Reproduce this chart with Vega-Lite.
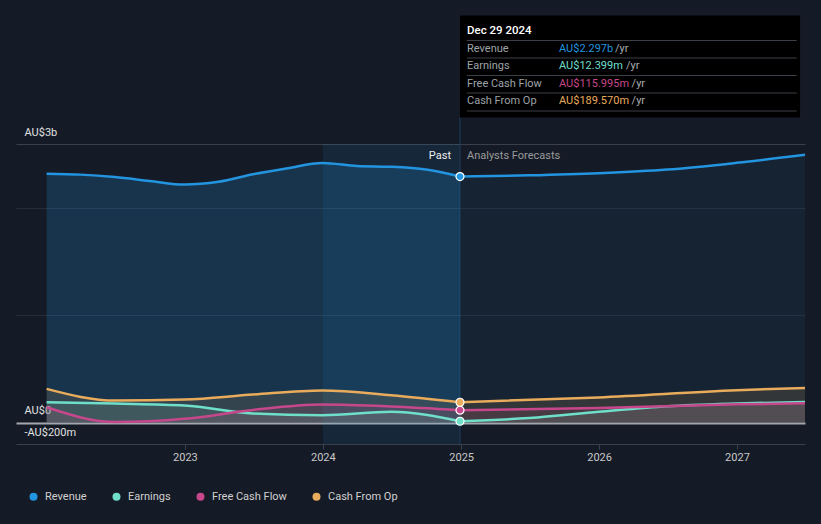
{
  "$schema": "https://vega.github.io/schema/vega-lite/v6.json",
  "width": 789,
  "height": 434,
  "autosize": {"type": "none"},
  "padding": {"left": 16, "top": 10, "right": 16, "bottom": 80},
  "background": "#151b26",
  "config": {
    "view": {"stroke": null},
    "font": "Roboto",
    "text": {"font": "Roboto"},
    "legend": {"labelFont": "Roboto"},
    "axis": {"labelFont": "Roboto"}
  },
  "datasets": {
    "financials": [
      {"date": "2021-12-31", "series": "Revenue", "phase": "past", "value": 2.324},
      {"date": "2022-03-31", "series": "Revenue", "phase": "past", "value": 2.315},
      {"date": "2022-06-30", "series": "Revenue", "phase": "past", "value": 2.292},
      {"date": "2022-09-30", "series": "Revenue", "phase": "past", "value": 2.256},
      {"date": "2022-12-31", "series": "Revenue", "phase": "past", "value": 2.222},
      {"date": "2023-03-31", "series": "Revenue", "phase": "past", "value": 2.248},
      {"date": "2023-06-30", "series": "Revenue", "phase": "past", "value": 2.318},
      {"date": "2023-09-30", "series": "Revenue", "phase": "past", "value": 2.375},
      {"date": "2023-12-31", "series": "Revenue", "phase": "past", "value": 2.424},
      {"date": "2024-03-31", "series": "Revenue", "phase": "past", "value": 2.396},
      {"date": "2024-06-30", "series": "Revenue", "phase": "past", "value": 2.388},
      {"date": "2024-09-30", "series": "Revenue", "phase": "past", "value": 2.362},
      {"date": "2024-12-29", "series": "Revenue", "phase": "past", "value": 2.297},
      {"date": "2024-12-29", "series": "Revenue", "phase": "forecast", "value": 2.297},
      {"date": "2025-06-30", "series": "Revenue", "phase": "forecast", "value": 2.308},
      {"date": "2025-12-31", "series": "Revenue", "phase": "forecast", "value": 2.328},
      {"date": "2026-06-30", "series": "Revenue", "phase": "forecast", "value": 2.362},
      {"date": "2026-12-31", "series": "Revenue", "phase": "forecast", "value": 2.425},
      {"date": "2027-06-30", "series": "Revenue", "phase": "forecast", "value": 2.5},

      {"date": "2021-12-31", "series": "Earnings", "phase": "past", "value": 0.19},
      {"date": "2022-06-30", "series": "Earnings", "phase": "past", "value": 0.178},
      {"date": "2022-12-31", "series": "Earnings", "phase": "past", "value": 0.16},
      {"date": "2023-06-30", "series": "Earnings", "phase": "past", "value": 0.085},
      {"date": "2023-12-31", "series": "Earnings", "phase": "past", "value": 0.068},
      {"date": "2024-06-30", "series": "Earnings", "phase": "past", "value": 0.1},
      {"date": "2024-12-29", "series": "Earnings", "phase": "past", "value": 0.0124},
      {"date": "2024-12-29", "series": "Earnings", "phase": "forecast", "value": 0.0124},
      {"date": "2025-06-30", "series": "Earnings", "phase": "forecast", "value": 0.042},
      {"date": "2025-12-31", "series": "Earnings", "phase": "forecast", "value": 0.1},
      {"date": "2026-06-30", "series": "Earnings", "phase": "forecast", "value": 0.152},
      {"date": "2026-12-31", "series": "Earnings", "phase": "forecast", "value": 0.178},
      {"date": "2027-06-30", "series": "Earnings", "phase": "forecast", "value": 0.193},

      {"date": "2021-12-31", "series": "Free Cash Flow", "phase": "past", "value": 0.143},
      {"date": "2022-06-30", "series": "Free Cash Flow", "phase": "past", "value": 0.005},
      {"date": "2022-12-31", "series": "Free Cash Flow", "phase": "past", "value": 0.035},
      {"date": "2023-06-30", "series": "Free Cash Flow", "phase": "past", "value": 0.118},
      {"date": "2023-12-31", "series": "Free Cash Flow", "phase": "past", "value": 0.168},
      {"date": "2024-06-30", "series": "Free Cash Flow", "phase": "past", "value": 0.15},
      {"date": "2024-12-29", "series": "Free Cash Flow", "phase": "past", "value": 0.116},
      {"date": "2024-12-29", "series": "Free Cash Flow", "phase": "forecast", "value": 0.116},
      {"date": "2025-12-31", "series": "Free Cash Flow", "phase": "forecast", "value": 0.135},
      {"date": "2026-12-31", "series": "Free Cash Flow", "phase": "forecast", "value": 0.17},
      {"date": "2027-06-30", "series": "Free Cash Flow", "phase": "forecast", "value": 0.18},

      {"date": "2021-12-31", "series": "Cash From Op", "phase": "past", "value": 0.315},
      {"date": "2022-06-30", "series": "Cash From Op", "phase": "past", "value": 0.205},
      {"date": "2022-12-31", "series": "Cash From Op", "phase": "past", "value": 0.215},
      {"date": "2023-06-30", "series": "Cash From Op", "phase": "past", "value": 0.262},
      {"date": "2023-12-31", "series": "Cash From Op", "phase": "past", "value": 0.3},
      {"date": "2024-06-30", "series": "Cash From Op", "phase": "past", "value": 0.255},
      {"date": "2024-12-29", "series": "Cash From Op", "phase": "past", "value": 0.19},
      {"date": "2024-12-29", "series": "Cash From Op", "phase": "forecast", "value": 0.19},
      {"date": "2025-12-31", "series": "Cash From Op", "phase": "forecast", "value": 0.235},
      {"date": "2026-12-31", "series": "Cash From Op", "phase": "forecast", "value": 0.302},
      {"date": "2027-06-30", "series": "Cash From Op", "phase": "forecast", "value": 0.324}
    ],
    "tooltip": [
      {"label": "Revenue", "series": "Revenue", "amount": "AU$2.297b"},
      {"label": "Earnings", "series": "Earnings", "amount": "AU$12.399m"},
      {"label": "Free Cash Flow", "series": "Free Cash Flow", "amount": "AU$115.995m"},
      {"label": "Cash From Op", "series": "Cash From Op", "amount": "AU$189.570m"}
    ]
  },
  "layer": [
    {
      "layer": [
        {
          "data": {"values": [{}]},
          "mark": {"type": "rect", "fill": "#2394df", "opacity": 0.1},
          "encoding": {
            "x": {
              "datum": {"year": 2024, "month": 1, "date": 1},
              "type": "temporal",
              "title": null,
              "scale": {
                "domain": [{"year": 2021, "month": 10, "date": 11}, {"year": 2027, "month": 6, "date": 30}]
              },
              "axis": {
                "values": [
                  {"year": 2023, "month": 1, "date": 1},
                  {"year": 2024, "month": 1, "date": 1},
                  {"year": 2025, "month": 1, "date": 1},
                  {"year": 2026, "month": 1, "date": 1},
                  {"year": 2027, "month": 1, "date": 1}
                ],
                "format": "%Y",
                "domain": false,
                "grid": false,
                "ticks": true,
                "tickSize": 5,
                "tickColor": "#3c424c",
                "labelColor": "#c8c8c8",
                "labelFontSize": 11,
                "labelPadding": 2
              }
            },
            "x2": {"datum": {"year": 2024, "month": 12, "date": 29}},
            "y": {
              "datum": 2.6,
              "type": "quantitative",
              "title": null,
              "scale": {"domain": [-0.2, 3.852], "zero": false, "nice": false},
              "axis": {
                "values": [-0.2, 0, 1, 2, 2.6],
                "labelExpr": "datum.value == 2.6 ? 'AU$3b' : datum.value == 0 ? 'AU$0' : datum.value == -0.2 ? '-AU$200m' : ''",
                "domain": false,
                "ticks": false,
                "tickSize": 0,
                "labelAlign": "left",
                "labelPadding": -8,
                "labelBaseline": "middle",
                "labelOffset": -12,
                "labelOverlap": false,
                "labelBound": false,
                "labelColor": "#e0e0e0",
                "labelFontSize": 11,
                "grid": true,
                "gridColor": {
                  "condition": [
                    {"test": "datum.value === 0", "value": "#a3a7ad"},
                    {"test": "datum.value === 1 || datum.value === 2", "value": "#262d38"}
                  ],
                  "value": "#3a404a"
                },
                "gridWidth": {"condition": {"test": "datum.value === 0", "value": 2}, "value": 1}
              }
            },
            "y2": {"datum": -0.2}
          }
        },
        {
          "data": {"values": [{}]},
          "mark": {"type": "rule", "color": "#1f3d5a", "strokeWidth": 1},
          "encoding": {
            "x": {"datum": {"year": 2024, "month": 12, "date": 29}, "type": "temporal", "title": null},
            "y": {"datum": 2.848, "type": "quantitative", "title": null},
            "y2": {"datum": -0.2}
          }
        },
        {
          "data": {"values": [{}]},
          "mark": {"type": "rect", "fill": "#000000"},
          "encoding": {
            "x": {"datum": {"year": 2024, "month": 12, "date": 29}, "type": "temporal", "title": null},
            "x2": {"datum": {"year": 2027, "month": 6, "date": 17}},
            "y": {"datum": 3.8, "type": "quantitative", "title": null},
            "y2": {"datum": 2.848}
          }
        },
        {
          "data": {"name": "financials"},
          "transform": [{"filter": "datum.series === 'Revenue' && datum.phase === 'past'"}],
          "mark": {"type": "area", "interpolate": "monotone", "fill": "#2394df", "fillOpacity": 0.21},
          "encoding": {
            "x": {"field": "date", "type": "temporal", "title": null},
            "y": {"field": "value", "type": "quantitative", "title": null},
            "y2": {"datum": 0}
          }
        },
        {
          "data": {"name": "financials"},
          "transform": [{"filter": "datum.series === 'Revenue' && datum.phase === 'forecast'"}],
          "mark": {"type": "area", "interpolate": "monotone", "fill": "#2394df", "fillOpacity": 0.07},
          "encoding": {
            "x": {"field": "date", "type": "temporal", "title": null},
            "y": {"field": "value", "type": "quantitative", "title": null},
            "y2": {"datum": 0}
          }
        },
        {
          "data": {"name": "financials"},
          "transform": [{"filter": "datum.series !== 'Revenue'"}],
          "mark": {"type": "area", "interpolate": "monotone", "fillOpacity": 0.14},
          "encoding": {
            "x": {"field": "date", "type": "temporal", "title": null},
            "y": {"field": "value", "type": "quantitative", "title": null},
            "y2": {"datum": 0},
            "color": {"field": "series", "type": "nominal"},
            "detail": {"field": "phase"}
          }
        },
        {
          "data": {"name": "financials"},
          "mark": {"type": "line", "interpolate": "monotone", "strokeWidth": 2.5},
          "encoding": {
            "x": {"field": "date", "type": "temporal", "title": null},
            "y": {"field": "value", "type": "quantitative", "title": null},
            "color": {"field": "series", "type": "nominal"},
            "detail": {"field": "phase"},
            "strokeWidth": {"condition": {"test": "datum.series === 'Revenue'", "value": 3}, "value": 2.5}
          }
        },
        {
          "data": {"name": "financials"},
          "transform": [
            {"filter": "datum.phase === 'past'"},
            {"filter": {"field": "date", "equal": {"year": 2024, "month": 12, "date": 29}}}
          ],
          "mark": {"type": "point", "filled": true, "size": 64, "stroke": "#ffffff", "strokeWidth": 1.2, "opacity": 1},
          "encoding": {
            "x": {"field": "date", "type": "temporal", "title": null},
            "y": {"field": "value", "type": "quantitative", "title": null},
            "color": {
              "field": "series",
              "type": "nominal",
              "scale": {
                "domain": ["Revenue", "Earnings", "Free Cash Flow", "Cash From Op"],
                "range": ["#2394df", "#6fdfca", "#c6478b", "#e9ab5c"]
              },
              "legend": {
                "title": null,
                "orient": "none",
                "direction": "horizontal",
                "legendX": 12,
                "legendY": 481,
                "symbolType": "circle",
                "symbolSize": 64,
                "symbolStrokeWidth": 0,
                "symbolOpacity": 1,
                "labelColor": "#d0d0d0",
                "labelFontSize": 11,
                "labelOffset": 6,
                "columnPadding": 24,
                "padding": 0,
                "encode": {
                  "symbols": {
                    "update": {
                      "fill": {"scale": "color", "field": "value"},
                      "fillOpacity": {"value": 1},
                      "opacity": {"value": 1},
                      "strokeWidth": {"value": 0}
                    }
                  }
                }
              }
            }
          }
        },
        {
          "data": {"values": [{}]},
          "mark": {"type": "text", "text": "Past", "align": "right", "baseline": "middle", "dx": -9, "fontSize": 11, "color": "#eeeeee"},
          "encoding": {
            "x": {"datum": {"year": 2024, "month": 12, "date": 29}, "type": "temporal", "title": null},
            "y": {"datum": 2.493, "type": "quantitative", "title": null}
          }
        },
        {
          "data": {"values": [{}]},
          "mark": {"type": "text", "text": "Analysts Forecasts", "align": "left", "baseline": "middle", "dx": 7, "fontSize": 11, "color": "#9a9a9a"},
          "encoding": {
            "x": {"datum": {"year": 2024, "month": 12, "date": 29}, "type": "temporal", "title": null},
            "y": {"datum": 2.493, "type": "quantitative", "title": null}
          }
        }
      ]
    },
    {
      "data": {"name": "tooltip"},
      "layer": [
        {
          "mark": {"type": "rule", "color": "#3a3f47", "strokeWidth": 1, "yOffset": -8},
          "encoding": {
            "x": {"datum": {"year": 2025, "month": 1, "date": 16}, "type": "temporal", "title": null},
            "x2": {"datum": {"year": 2027, "month": 6, "date": 8}},
            "y": {
              "field": "label",
              "type": "nominal",
              "title": null,
              "axis": null,
              "scale": {
                "type": "point",
                "domain": ["Dec 29 2024", "Revenue", "Earnings", "Free Cash Flow", "Cash From Op"],
                "range": [21, 91],
                "padding": 0
              }
            }
          }
        },
        {
          "transform": [{"filter": "datum.label === 'Cash From Op'"}],
          "mark": {"type": "rule", "color": "#3a3f47", "strokeWidth": 1, "yOffset": 10},
          "encoding": {
            "x": {"datum": {"year": 2025, "month": 1, "date": 16}, "type": "temporal", "title": null},
            "x2": {"datum": {"year": 2027, "month": 6, "date": 8}},
            "y": {"field": "label", "type": "nominal", "title": null, "axis": null}
          }
        },
        {
          "data": {"values": [{}]},
          "mark": {"type": "text", "text": "Dec 29 2024", "align": "left", "baseline": "middle", "dx": 7, "fontSize": 11.5, "fontWeight": 500, "color": "#ffffff"},
          "encoding": {
            "x": {"datum": {"year": 2024, "month": 12, "date": 29}, "type": "temporal", "title": null},
            "y": {"datum": "Dec 29 2024", "type": "nominal", "title": null, "axis": null}
          }
        },
        {
          "mark": {"type": "text", "align": "left", "baseline": "middle", "dx": 7, "fontSize": 11, "color": "#9ea3a8"},
          "encoding": {
            "x": {"datum": {"year": 2024, "month": 12, "date": 29}, "type": "temporal", "title": null},
            "y": {"field": "label", "type": "nominal", "title": null, "axis": null},
            "text": {"field": "label"}
          }
        },
        {
          "transform": [{"calculate": "length(datum.amount) * 5.6 + 5.6 + (indexof(datum.amount, 'm') >= 0 ? 5.4 : 0)", "as": "unitShift"}],
          "mark": {"type": "text", "align": "left", "baseline": "middle", "dx": 99, "fontSize": 11, "color": "#a8adb2", "text": "/yr"},
          "encoding": {
            "x": {"datum": {"year": 2024, "month": 12, "date": 29}, "type": "temporal", "title": null},
            "xOffset": {"field": "unitShift", "type": "quantitative", "scale": null},
            "y": {"field": "label", "type": "nominal", "title": null, "axis": null}
          }
        },
        {
          "mark": {"type": "text", "align": "left", "baseline": "middle", "dx": 99, "fontSize": 11},
          "encoding": {
            "x": {"datum": {"year": 2024, "month": 12, "date": 29}, "type": "temporal", "title": null},
            "y": {"field": "label", "type": "nominal", "title": null, "axis": null},
            "text": {"field": "amount"},
            "color": {"field": "series", "type": "nominal"}
          }
        }
      ]
    }
  ],
  "resolve": {"scale": {"y": "independent"}}
}
